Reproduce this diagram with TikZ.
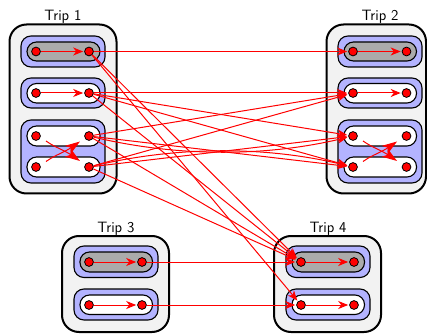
\documentclass[tikz,border=0pt]{standalone}
\usepackage{fontspec}
\usetikzlibrary{arrows.meta}
\definecolor{tripfill}{HTML}{F2F2F2}
\definecolor{groupfill}{HTML}{B3B3FF}
\definecolor{pillgray}{HTML}{ABABAB}
\definecolor{arrred}{HTML}{FF0000}
\tikzset{
  tripbox/.style={draw=black, line width=2pt, fill=tripfill, rounded corners=17pt},
  groupbox/.style={draw=black, line width=1.1pt, fill=groupfill, rounded corners=10pt},
  pillbox/.style={draw=black, line width=1.1pt, fill=white, rounded corners=9.5pt},
  pillgraybox/.style={pillbox, fill=pillgray},
  stopdot/.style={circle, draw=black, line width=0.8pt, fill=arrred, minimum size=8.8pt, inner sep=0pt},
  conn/.style={draw=arrred, color=arrred, line width=1pt, -{Stealth[length=10pt,width=8pt,inset=3pt]}, shorten >=1pt},
  swaparr/.style={draw=arrred, color=arrred, line width=1pt, -{Stealth[length=15pt,width=10pt,inset=4pt]}},
  triplabel/.style={font=\sffamily\fontsize{15}{17}\selectfont, anchor=base, inner sep=0pt},
}
\begin{document}
\begin{tikzpicture}[x=1pt,y=-1pt]
\useasboundingbox (0,0) rectangle (427,336);
% ---------- Trip 1 ----------
\node[triplabel] (lab1) at (63,20.5) {Trip 1};
\draw[tripbox] (9.5,24.5) rectangle (116.5,193.5);
\draw[groupbox] (21,36) rectangle (105,67);
\draw[pillgraybox] (27,42) rectangle (100,61);
\draw[groupbox] (21,78) rectangle (105,108);
\draw[pillbox] (27,83.5) rectangle (100,103);
\draw[groupbox] (21,120) rectangle (105,183);
\draw[pillbox] (27,126) rectangle (100,146);
\draw[pillbox] (27,157) rectangle (100,177);
\node[stopdot] (t1r1l) at (36,51.5) {};
\node[stopdot] (t1r1r) at (89,51.5) {};
\node[stopdot] (t1r2l) at (36,93) {};
\node[stopdot] (t1r2r) at (89,93) {};
\node[stopdot] (t1r3al) at (36,136) {};
\node[stopdot] (t1r3ar) at (89,136) {};
\node[stopdot] (t1r3bl) at (36,167) {};
\node[stopdot] (t1r3br) at (89,167) {};
% ---------- Trip 2 ----------
\node[triplabel] (lab2) at (380,20.5) {Trip 2};
\draw[tripbox] (326.5,24.5) rectangle (426,193.5);
\draw[groupbox] (338,36) rectangle (422,67);
\draw[pillgraybox] (344,42) rectangle (416.5,61);
\draw[groupbox] (338,78) rectangle (422,108);
\draw[pillbox] (344,83.5) rectangle (416.5,103);
\draw[groupbox] (338,120) rectangle (422,183);
\draw[pillbox] (344,126) rectangle (416.5,146);
\draw[pillbox] (344,157) rectangle (416.5,177);
\node[stopdot] (t2r1l) at (353,51.5) {};
\node[stopdot] (t2r1r) at (406.5,51.5) {};
\node[stopdot] (t2r2l) at (353,93) {};
\node[stopdot] (t2r2r) at (406.5,93) {};
\node[stopdot] (t2r3al) at (353,136) {};
\node[stopdot] (t2r3ar) at (406.5,136) {};
\node[stopdot] (t2r3bl) at (353,167) {};
\node[stopdot] (t2r3br) at (406.5,167) {};
% ---------- Trip 3 ----------
\node[triplabel] (lab3) at (116,232.5) {Trip 3};
\draw[tripbox] (62,236) rectangle (169,332);
\draw[groupbox] (74,246) rectangle (158,277.5);
\draw[pillgraybox] (80,252) rectangle (152.5,272);
\draw[groupbox] (74,289) rectangle (158,320);
\draw[pillbox] (80,295) rectangle (152.5,314.5);
\node[stopdot] (t3r1l) at (89,262) {};
\node[stopdot] (t3r1r) at (142,262) {};
\node[stopdot] (t3r2l) at (89,305) {};
\node[stopdot] (t3r2r) at (142,305) {};
% ---------- Trip 4 ----------
\node[triplabel] (lab4) at (328,232.5) {Trip 4};
\draw[tripbox] (274,236) rectangle (381,332);
\draw[groupbox] (286,246) rectangle (370,277.5);
\draw[pillgraybox] (292,252) rectangle (364.5,272);
\draw[groupbox] (286,289) rectangle (370,320);
\draw[pillbox] (292,295) rectangle (364.5,314.5);
\node[stopdot] (t4r1l) at (301,262) {};
\node[stopdot] (t4r1r) at (354,262) {};
\node[stopdot] (t4r2l) at (301,305) {};
\node[stopdot] (t4r2r) at (354,305) {};
% ---------- arrows inside rows ----------
\draw[conn] (t1r1l) -- (t1r1r);
\draw[conn] (t1r2l) -- (t1r2r);
\draw[conn] (t2r1l) -- (t2r1r);
\draw[conn] (t2r2l) -- (t2r2r);
\draw[conn] (t3r1l) -- (t3r1r);
\draw[conn] (t3r2l) -- (t3r2r);
\draw[conn] (t4r1l) -- (t4r1r);
\draw[conn] (t4r2l) -- (t4r2r);
% ---------- swap marks ----------
\coordinate (s1a) at (46,141);
\coordinate (s1b) at (80,161);
\coordinate (s1c) at (46,161.5);
\coordinate (s1d) at (80,141.5);
\draw[swaparr] (s1a) .. controls (56,148) and (64,150) .. (s1b);
\draw[swaparr] (s1c) .. controls (56,154.5) and (64,152.5) .. (s1d);
\coordinate (s2a) at (363,141);
\coordinate (s2b) at (397,161);
\coordinate (s2c) at (363,161.5);
\coordinate (s2d) at (397,141.5);
\draw[swaparr] (s2a) .. controls (373,148) and (381,150) .. (s2b);
\draw[swaparr] (s2c) .. controls (373,154.5) and (381,152.5) .. (s2d);
% ---------- Trip 1 to Trip 2 ----------
\draw[conn] (t1r1r) -- (t2r1l);
\draw[conn] (t1r2r) -- (t2r2l);
\draw[conn] (t1r2r) -- (t2r3al);
\draw[conn] (t1r2r) -- (t2r3bl);
\draw[conn] (t1r3ar) -- (t2r2l);
\draw[conn] (t1r3br) -- (t2r2l);
\draw[conn] (t1r3ar) .. controls (177,157) and (265,157) .. (t2r3al);
\draw[conn] (t1r3ar) -- (t2r3bl);
\draw[conn] (t1r3br) -- (t2r3al);
\draw[conn] (t1r3br) .. controls (177,146) and (265,146) .. (t2r3bl);
% ---------- Trip 1 to Trip 4 ----------
\draw[conn] (t1r1r) -- (t4r1l);
\draw[conn] (t1r1r) -- (t4r2l);
\draw[conn] (t1r2r) -- (t4r1l);
\draw[conn] (t1r3ar) -- (t4r1l);
\draw[conn] (t1r3br) -- (t4r1l);
% ---------- Trip 3 to Trip 4 ----------
\draw[conn] (t3r1r) -- (t4r1l);
\draw[conn] (t3r2r) -- (t4r2l);
\end{tikzpicture}
\end{document}
